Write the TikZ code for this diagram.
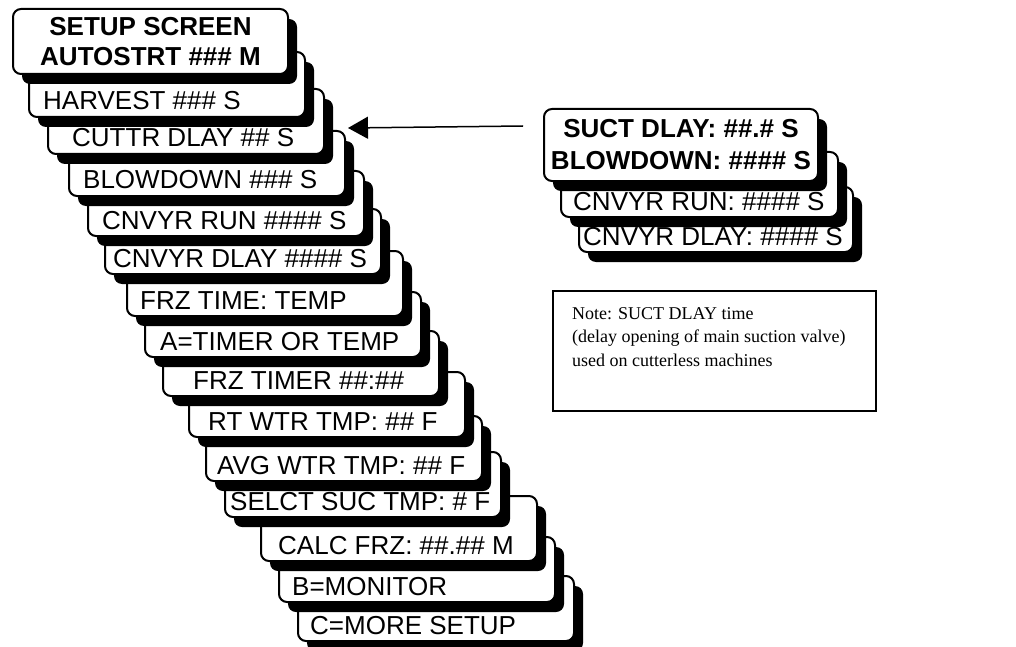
\documentclass[tikz,border=0pt]{standalone}
\usepackage{fontspec}
\setmainfont{Liberation Sans}
\newfontfamily\notefont{Liberation Serif}
\usetikzlibrary{arrows.meta,positioning,shadows}

\begin{document}
\begin{tikzpicture}[
            x=1pt, y=-1pt,
            >=Latex,
            menubox/.style={draw,rectangle,rounded corners=8pt,line width=2pt,fill=white,
                            minimum width=276pt,minimum height=65pt,inner sep=0pt,
                            drop shadow={shadow xshift=9pt,shadow yshift=-10pt,fill=black,opacity=1}},
            headbox/.style={menubox,align=center,font=\bfseries\fontsize{26}{30}\selectfont},
            item/.style={anchor=base west,inner sep=0pt,font=\fontsize{26}{30}\selectfont},
            notebox/.style={draw,rectangle,line width=1.5pt,minimum width=323pt,
                            minimum height=120pt,inner sep=0pt},
            notetext/.style={anchor=north west,align=left,inner sep=0pt,
                             font=\notefont\fontsize{18}{23.5}\selectfont},
            pointer/.style={-{Triangle[length=20pt,width=22pt]},line width=1.5pt}
        ]
        \useasboundingbox (0,0) rectangle (1016,647);
        % setup menu, drawn from the back to the front
        \foreach \nm/\lx/\by/\tx/\txt in {
                more/297/642/310/{C=MORE SETUP},
                monitor/278/603/292/{B=MONITOR},
                calcfrz/260/562/278/{CALC FRZ: \#\#.\#\# M},
                selct/224/518/230/{SELCT SUC TMP: \# F},
                avgwtr/205/482/217/{AVG WTR TMP: \#\# F},
                rtwtr/188/438/208/{RT WTR TMP: \#\# F},
                frztimer/162/397/193/{FRZ TIMER \#\#:\#\#},
                timertemp/144/358/160/{A=TIMER OR TEMP},
                frztime/126/317/140/{FRZ TIME: TEMP},
                cnvyrdlay/104/275/113/{CNVYR DLAY \#\#\#\# S},
                cnvyrrun/87/237/102/{CNVYR RUN \#\#\#\# S},
                blowdown/68/197/83/{BLOWDOWN \#\#\# S},
                cuttr/47/155/72/{CUTTR DLAY \#\# S},
                harvest/28/118/43/{HARVEST \#\#\# S}} {
            \node[menubox,anchor=south west] (\nm) at (\lx,\by) {};
            \node[item] (\nm-txt) at (\tx,\by-8) {\txt};
        }
        \node[headbox,anchor=south west,minimum width=275pt] (setup) at (12,75)
            {SETUP SCREEN\\AUTOSTRT \#\#\# M};
        % suction delay screens
        \node[menubox,anchor=south west,minimum width=274pt] (sdlay) at (578,253) {};
        \node[item] (sdlay-txt) at (583,245) {CNVYR DLAY: \#\#\#\# S};
        \node[menubox,anchor=south west,minimum width=277pt] (srun) at (560,218) {};
        \node[item] (srun-txt) at (573,210) {CNVYR RUN: \#\#\#\# S};
        \node[headbox,anchor=north west,minimum width=274pt,minimum height=72pt,
              font=\bfseries\fontsize{26}{32}\selectfont] (suct) at (543,108)
            {SUCT DLAY: \#\#.\# S\\BLOWDOWN: \#\#\#\# S};
        % note
        \node[notebox,anchor=north west] (notebox) at (552,290) {};
        \node[notetext] (note) at ([shift={(20,17)}]notebox.north west)
            {Note: SUCT DLAY time\\(delay opening of main suction valve)\\used on cutterless machines};
        \draw[pointer] ([shift={(-20,18)}]suct.north west) -- ([shift={(2,-2)}]blowdown.north east);
\end{tikzpicture}
\end{document}
